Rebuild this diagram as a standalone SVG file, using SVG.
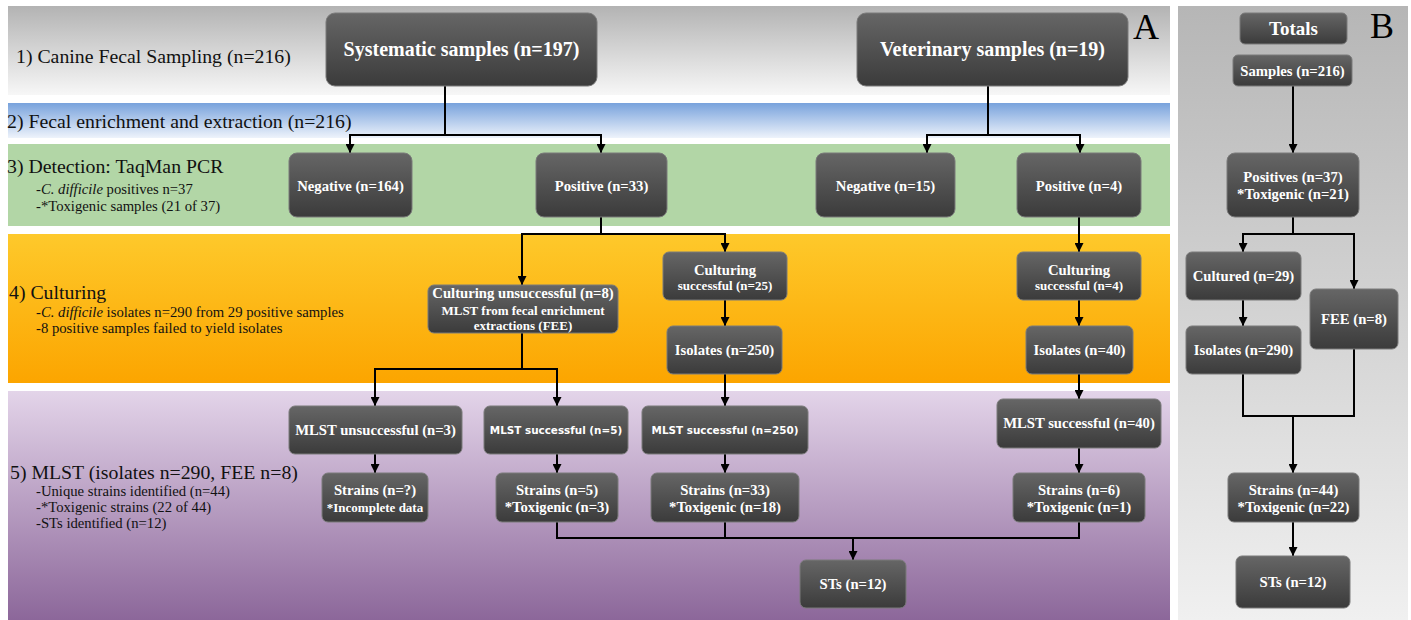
<svg xmlns="http://www.w3.org/2000/svg" width="1411" height="620" viewBox="0 0 1411 620">
<defs>
<linearGradient id="g1" x1="0" y1="0" x2="0" y2="1"><stop offset="0" stop-color="#b3b3b3"/><stop offset="1" stop-color="#f7f7f7"/></linearGradient>
<linearGradient id="g2" x1="0" y1="0" x2="0" y2="1"><stop offset="0" stop-color="#78a2dc"/><stop offset="1" stop-color="#eef3fb"/></linearGradient>
<linearGradient id="g4" x1="0" y1="0" x2="0" y2="1"><stop offset="0" stop-color="#fec92b"/><stop offset="1" stop-color="#fca500"/></linearGradient>
<linearGradient id="g5" x1="0" y1="0" x2="0" y2="1"><stop offset="0" stop-color="#e3d4e9"/><stop offset="1" stop-color="#8c679a"/></linearGradient>
<linearGradient id="gB" x1="0" y1="0" x2="0" y2="1"><stop offset="0" stop-color="#b6b6b6"/><stop offset="1" stop-color="#f0f0f0"/></linearGradient>
<linearGradient id="ng" x1="0" y1="0" x2="0" y2="1"><stop offset="0" stop-color="#666666"/><stop offset="1" stop-color="#3b3b3b"/></linearGradient>
<marker id="ah" markerUnits="userSpaceOnUse" markerWidth="9" markerHeight="9" viewBox="0 0 9 9" refX="9" refY="4.5" orient="auto"><path d="M0,0 L9,4.5 L0,9 z" fill="#000"/></marker>
</defs>
<style>
.node rect{fill:url(#ng);stroke:#7a7a7a;stroke-width:1}
.nt{font-family:"Liberation Serif","Times New Roman",serif;font-weight:bold;fill:#fff;text-anchor:middle;font-size:14.7px}
.ns{font-family:"DejaVu Sans",Verdana,sans-serif;font-weight:bold;fill:#fff;text-anchor:middle;font-size:10.4px}
.big{font-size:20px}
.sm{font-size:13px}
.bt{font-family:"Liberation Serif","Times New Roman",serif;fill:#111;font-size:19.8px}
.st{font-family:"Liberation Serif","Times New Roman",serif;fill:#111;font-size:14.7px}
.lt{font-family:"Liberation Serif","Times New Roman",serif;fill:#000;font-size:36px}
#connectors path{fill:none;stroke:#000;stroke-width:2}
.arr{marker-end:url(#ah)}
</style>
<rect width="1411" height="620" fill="#fff"/>
<g id="bands">
<rect x="8" y="6" width="1162" height="89" fill="url(#g1)"/>
<rect x="8" y="103" width="1162" height="35" fill="url(#g2)"/>
<rect x="8" y="144" width="1162" height="82" fill="#b2d6a6"/>
<rect x="8" y="234" width="1162" height="149" fill="url(#g4)"/>
<rect x="8" y="391" width="1162" height="229" fill="url(#g5)"/>
<rect x="1178" y="6" width="230" height="614" fill="url(#gB)"/>
</g>
<g id="labels">
<text class="bt" x="16" y="63">1) Canine Fecal Sampling (n=216)</text>
<text class="bt" x="7" y="128">2) Fecal enrichment and extraction (n=216)</text>
<text class="bt" x="7" y="173">3) Detection: TaqMan PCR</text>
<text class="st" x="36" y="194">-<tspan font-style="italic">C. difficile</tspan> positives n=37</text>
<text class="st" x="36" y="211">-*Toxigenic samples (21 of 37)</text>
<text class="bt" x="9" y="299">4) Culturing</text>
<text class="st" x="36" y="317">-<tspan font-style="italic">C. difficile</tspan> isolates n=290 from 29 positive samples</text>
<text class="st" x="36" y="333">-8 positive samples failed to yield isolates</text>
<text class="bt" x="10" y="479">5) MLST (isolates n=290, FEE n=8)</text>
<text class="st" x="36" y="496">-Unique strains identified (n=44)</text>
<text class="st" x="36" y="512">-*Toxigenic strains (22 of 44)</text>
<text class="st" x="36" y="528">-STs identified (n=12)</text>
<text class="lt" x="1133" y="39">A</text>
<text class="lt" x="1370" y="38">B</text>
</g>
<g id="connectors">
<path class="arr" d="M445,86 V135 H350 V153"/>
<path class="arr" d="M445,135 H601 V153"/>
<path class="arr" d="M988,86 V135 H927 V153"/>
<path class="arr" d="M988,135 H1080 V153"/>
<path class="arr" d="M601,217 V234 H522 V285"/>
<path class="arr" d="M601,234 H725 V252"/>
<path class="arr" d="M725,300 V326"/>
<path class="arr" d="M725,374 V406"/>
<path class="arr" d="M522,333 V369 H375 V406"/>
<path class="arr" d="M522,369 H557 V406"/>
<path class="arr" d="M375,454 V473"/>
<path class="arr" d="M557,454 V473"/>
<path class="arr" d="M725,454 V473"/>
<path class="arr" d="M1079,217 V252"/>
<path class="arr" d="M1079,300 V326"/>
<path class="arr" d="M1079,374 V399"/>
<path class="arr" d="M1079,448 V473"/>
<path d="M557,522 V538 H1079 V522"/>
<path d="M725,522 V538"/>
<path class="arr" d="M853,538 V560"/>
<path class="arr" d="M1293,86 V153"/>
<path class="arr" d="M1293,217 V234 H1243 V252"/>
<path class="arr" d="M1293,234 H1354 V289"/>
<path class="arr" d="M1243,300 V326"/>
<path d="M1243,374 V416 H1354 V349"/>
<path class="arr" d="M1293,416 V473"/>
<path class="arr" d="M1293,522 V556"/>
</g>
<g id="sys" class="node"><rect x="326" y="13" width="271" height="73" rx="9"/><text class="nt big" x="461.5" y="56">Systematic samples (n=197)</text></g>
<g id="vet" class="node"><rect x="857" y="13" width="271" height="73" rx="9"/><text class="nt big" x="992.5" y="56">Veterinary samples (n=19)</text></g>
<g id="neg164" class="node"><rect x="289" y="153" width="123" height="64" rx="8"/><text class="nt" x="350.5" y="191">Negative (n=164)</text></g>
<g id="pos33" class="node"><rect x="536" y="153" width="131" height="64" rx="8"/><text class="nt" x="601.5" y="191">Positive (n=33)</text></g>
<g id="neg15" class="node"><rect x="816" y="153" width="139" height="64" rx="8"/><text class="nt" x="885.5" y="191">Negative (n=15)</text></g>
<g id="pos4" class="node"><rect x="1017" y="153" width="124" height="64" rx="8"/><text class="nt" x="1079" y="191">Positive (n=4)</text></g>
<g id="cultFail" class="node"><rect x="428" y="285" width="190" height="48" rx="6"/><text class="nt" x="523" y="298">Culturing unsuccessful (n=8)</text><text class="nt sm" x="523" y="315">MLST from fecal enrichment</text><text class="nt sm" x="523" y="330">extractions (FEE)</text></g>
<g id="cult25" class="node"><rect x="663" y="252" width="124" height="48" rx="6"/><text class="nt" x="725" y="275">Culturing</text><text class="nt sm" x="725" y="290">successful (n=25)</text></g>
<g id="iso250" class="node"><rect x="667" y="326" width="115" height="48" rx="6"/><text class="nt" x="724.5" y="355">Isolates (n=250)</text></g>
<g id="cult4" class="node"><rect x="1017" y="252" width="124" height="48" rx="6"/><text class="nt" x="1079" y="275">Culturing</text><text class="nt sm" x="1079" y="290">successful (n=4)</text></g>
<g id="iso40" class="node"><rect x="1026" y="326" width="107" height="48" rx="6"/><text class="nt" x="1079.5" y="355">Isolates (n=40)</text></g>
<g id="mlstFail" class="node"><rect x="289" y="406" width="173" height="48" rx="6"/><text class="nt" x="375.5" y="435">MLST unsuccessful (n=3)</text></g>
<g id="mlst5" class="node"><rect x="484" y="406" width="144" height="48" rx="6"/><text class="ns" x="556" y="434">MLST successful (n=5)</text></g>
<g id="mlst250" class="node"><rect x="642" y="406" width="166" height="48" rx="6"/><text class="ns" x="725" y="434">MLST successful (n=250)</text></g>
<g id="mlst40" class="node"><rect x="997" y="399" width="164" height="49" rx="6"/><text class="nt" x="1079" y="428">MLST successful (n=40)</text></g>
<g id="strainsQ" class="node"><rect x="322" y="473" width="106" height="49" rx="6"/><text class="nt" x="375" y="495">Strains (n=?)</text><text class="nt sm" x="375" y="512">*Incomplete data</text></g>
<g id="strains5" class="node"><rect x="496" y="473" width="122" height="49" rx="6"/><text class="nt" x="557" y="495">Strains (n=5)</text><text class="nt" x="557" y="512">*Toxigenic (n=3)</text></g>
<g id="strains33" class="node"><rect x="651" y="473" width="148" height="49" rx="6"/><text class="nt" x="725" y="495">Strains (n=33)</text><text class="nt" x="725" y="512">*Toxigenic (n=18)</text></g>
<g id="strains6" class="node"><rect x="1013" y="473" width="132" height="49" rx="6"/><text class="nt" x="1079" y="495">Strains (n=6)</text><text class="nt" x="1079" y="512">*Toxigenic (n=1)</text></g>
<g id="sts" class="node"><rect x="800" y="560" width="106" height="48" rx="6"/><text class="nt" x="853" y="589">STs (n=12)</text></g>
<g id="totals" class="node"><rect x="1240" y="13" width="107" height="31" rx="5"/><text class="nt" x="1293.5" y="35" font-size="19px" style="font-size:19px">Totals</text></g>
<g id="samplesB" class="node"><rect x="1233" y="55" width="119" height="31" rx="5"/><text class="nt" x="1292.5" y="76">Samples (n=216)</text></g>
<g id="positivesB" class="node"><rect x="1227" y="153" width="132" height="64" rx="8"/><text class="nt" x="1293" y="182">Positives (n=37)</text><text class="nt" x="1293" y="199">*Toxigenic (n=21)</text></g>
<g id="culturedB" class="node"><rect x="1186" y="252" width="115" height="48" rx="6"/><text class="nt" x="1243.5" y="281">Cultured (n=29)</text></g>
<g id="isolatesB" class="node"><rect x="1186" y="326" width="115" height="48" rx="6"/><text class="nt" x="1243.5" y="355">Isolates (n=290)</text></g>
<g id="feeB" class="node"><rect x="1310" y="289" width="88" height="60" rx="6"/><text class="nt" x="1354" y="324">FEE (n=8)</text></g>
<g id="strainsB" class="node"><rect x="1228" y="473" width="131" height="49" rx="6"/><text class="nt" x="1293.5" y="495">Strains (n=44)</text><text class="nt" x="1293.5" y="512">*Toxigenic (n=22)</text></g>
<g id="stsB" class="node"><rect x="1236" y="556" width="114" height="52" rx="6"/><text class="nt" x="1293" y="587">STs (n=12)</text></g>
</svg>
